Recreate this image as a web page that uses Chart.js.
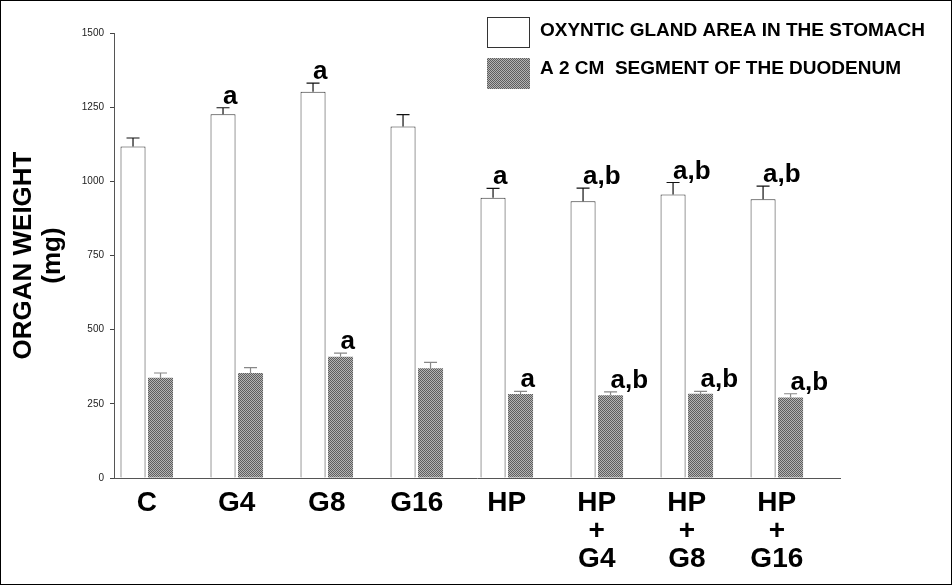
<!DOCTYPE html>
<html>
<head>
<title>Organ weight</title>
<script src="https://cdn.jsdelivr.net/npm/chart.js"></script>
<style>
body{
  margin:0;
  background:#fff;
}
</style>
</head>
<body>
<canvas id="chart" width="952" height="585"></canvas>

<script>
// ================= DATA =================
const groups = [['C'], ['G4'], ['G8'], ['G16'], ['HP'], ['HP', '+', 'G4'], ['HP', '+', 'G8'], ['HP', '+', 'G16']];
const stomach = [1117, 1226, 1302, 1185, 945, 933, 956, 940];
const stomachSem = [29, 22, 29, 40, 31, 44, 40, 44];
const duodenum = [338, 354, 409, 370, 283, 279, 284, 271];
const duodenumSem = [16, 18, 12, 20, 9, 11, 8, 13];
const stomachMarks = ['', 'a', 'a', '', 'a', 'a,b', 'a,b', 'a,b'];
const duodenumMarks = ['', '', 'a', '', 'a', 'a,b', 'a,b', 'a,b'];
const yTicks = [0, 250, 500, 750, 1000, 1250, 1500];

const FONT = '"Liberation Sans", Arial, sans-serif';

// ================= GRAY DITHER =================
function dither(){
  const c = document.createElement('canvas');
  c.width = 2; c.height = 2;
  const g = c.getContext('2d');
  g.fillStyle = '#b4b4b4';
  g.fillRect(0, 0, 2, 2);
  g.fillStyle = '#5e5e5e';
  g.fillRect(0, 0, 1, 1);
  g.fillRect(1, 1, 1, 1);
  return g.createPattern(c, 'repeat');
}
const gray = dither();

// ================= ERROR BARS, LETTERS, LEGEND =================
const extras = {
  id: 'extras',
  afterDatasetsDraw(chart){
    const ctx = chart.ctx;
    const y = chart.scales.y;
    chart.data.datasets.forEach((ds, di) => {
      chart.getDatasetMeta(di).data.forEach((bar, i) => {
        const top = y.getPixelForValue(ds.data[i].y + ds.sem[i]);
        ctx.save();
        ctx.strokeStyle = ds.errColor;
        ctx.lineWidth = 1.2;
        ctx.beginPath();
        ctx.moveTo(bar.x, bar.y);
        ctx.lineTo(bar.x, top);
        ctx.moveTo(bar.x - 6.5, top);
        ctx.lineTo(bar.x + 6.5, top);
        ctx.stroke();
        if (ds.marks[i]) {
          ctx.fillStyle = '#000';
          ctx.font = 'bold 26px ' + FONT;
          ctx.textAlign = 'left';
          ctx.textBaseline = 'alphabetic';
          ctx.fillText(ds.marks[i], bar.x, top - 4);
        }
        ctx.restore();
      });
    });
  },
  afterDraw(chart){
    const ctx = chart.ctx;
    ctx.save();
    chart.data.datasets.forEach((ds, i) => {
      const by = 17 + i * 41;
      ctx.fillStyle = ds.backgroundColor;
      ctx.fillRect(487, by, 43, 31);
      if (ds.borderWidth) {
        ctx.strokeStyle = ds.borderColor;
        ctx.lineWidth = 1;
        ctx.strokeRect(487.5, by + 0.5, 42, 30);
      }
      ctx.fillStyle = '#000';
      ctx.font = 'bold 19px ' + FONT;
      ctx.textAlign = 'left';
      ctx.textBaseline = 'alphabetic';
      ctx.fillText(ds.label, 540, 36 + i * 37.5);
    });
    ctx.strokeStyle = '#000';
    ctx.lineWidth = 1;
    ctx.strokeRect(0.5, 0.5, 951, 584);
    ctx.restore();
  }
};

// ================= CHART =================
new Chart(document.getElementById('chart'), {
  type: 'bar',
  data: {
    datasets: [
      {
        label: 'OXYNTIC GLAND AREA IN THE STOMACH',
        data: stomach.map((v, i) => ({x: i, y: v})),
        sem: stomachSem,
        marks: stomachMarks,
        backgroundColor: '#fff',
        borderColor: '#333',
        borderWidth: 1,
        errColor: '#111'
      },
      {
        label: 'A 2 CM  SEGMENT OF THE DUODENUM',
        data: duodenum.map((v, i) => ({x: i, y: v})),
        sem: duodenumSem,
        marks: duodenumMarks,
        backgroundColor: gray,
        borderWidth: 0,
        errColor: '#888'
      }
    ]
  },
  options: {
    responsive: false,
    animation: false,
    categoryPercentage: 0.611,
    barPercentage: 0.91,
    layout: {padding: {left: 0, top: 33, right: 112, bottom: 0}},
    plugins: {legend: {display: false}, tooltip: {enabled: false}},
    scales: {
      x: {
        type: 'linear',
        min: -0.364,
        max: 7.702,
        offset: false,
        grid: {display: true, drawOnChartArea: false, drawTicks: false},
        border: {color: '#555', width: 1},
        afterBuildTicks: s => { s.ticks = groups.map((g, i) => ({value: i})); },
        afterFit: s => { s.height = 107; },
        ticks: {
          callback: v => groups[v],
          color: '#000',
          padding: 11,
          maxRotation: 0,
          autoSkip: false,
          font: {family: FONT, size: 28, weight: 'bold', lineHeight: 1.01}
        }
      },
      y: {
        min: 0,
        max: 1500,
        afterBuildTicks: s => { s.ticks = yTicks.map(v => ({value: v})); },
        afterFit: s => { s.width = 114; },
        grid: {drawOnChartArea: false, drawTicks: true, tickLength: 4, color: '#444'},
        border: {color: '#555', width: 1},
        ticks: {color: '#222', padding: 6, font: {family: FONT, size: 10}, callback: v => String(v)},
        title: {
          display: true,
          text: ['ORGAN WEIGHT', '(mg)'],
          color: '#000',
          padding: {top: 9, bottom: 0},
          font: {family: FONT, size: 26, weight: 'bold', lineHeight: 1.13}
        }
      }
    }
  },
  plugins: [extras]
});
</script>
</body>
</html>
